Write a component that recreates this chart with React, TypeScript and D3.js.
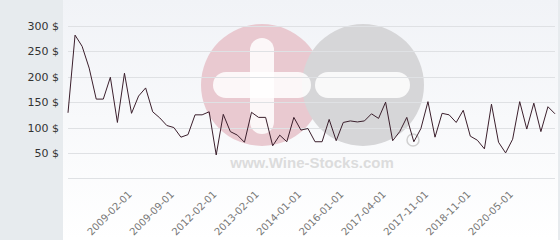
import React from "react";
import * as d3 from "d3";

const prices = [129, 282, 260, 217, 156, 156, 199, 110, 207, 128, 162, 178, 131, 119, 104, 100, 81, 86, 125, 125,
  131, 46, 126, 92, 85, 71, 130, 120, 120, 64, 85, 72, 120, 95, 98, 72, 72, 116, 74, 110,
  113, 111, 113, 127, 118, 150, 74, 92, 120, 72, 98, 151, 81, 128, 125, 110, 134, 83, 75, 58,
  146, 71, 50, 77, 151, 97, 148, 92, 141, 127];

const tickLabels = ["2009-02-01", "2009-09-01", "2012-02-01", "2013-02-01", "2014-01-01",
  "2016-01-01", "2017-04-01", "2017-11-01", "2018-11-01", "2020-05-01"];
const tickIndexes = [9, 15, 21, 27, 33, 39, 45, 51, 57, 63];
const yTicks = [0, 50, 100, 150, 200, 250, 300];

const W = 560, H = 240;

export default function App() {
  const x = d3.scaleLinear().domain([0, prices.length - 1]).range([68, 555]);
  const y = d3.scaleLinear().domain([0, 300]).range([178.3, 26]);
  const line = d3.line<number>().x((_, i) => x(i)).y((d) => y(d));
  const font = "'DejaVu Sans', Verdana, sans-serif";
  return (
    <svg width={W} height={H} style={{ position: "absolute", left: 0, top: 0 }}>
      <defs>
        <linearGradient id="bg" x1="0" y1="0" x2="0" y2="1">
          <stop offset="0" stopColor="#f1f3f7" />
          <stop offset="1" stopColor="#ffffff" />
        </linearGradient>
      </defs>
      <rect x={0} y={0} width={W} height={H} fill="#e7ebee" />
      <rect x={63} y={0} width={495} height={H} fill="url(#bg)" />
      {/* watermark */}
      <g>
        <circle cx={262} cy={85} r={61} fill="#e9c9d0" />
        <circle cx={363} cy={85} r={61} fill="#d6d6d8" />
        <rect x={250} y={38} width={24} height={96} rx={12} fill="#ffffff" opacity={0.85} />
        <rect x={213} y={72} width={98} height={26} rx={13} fill="#ffffff" opacity={0.85} />
        <rect x={315} y={72} width={95} height={26} rx={13} fill="#ffffff" opacity={0.85} />
        <circle cx={413} cy={140} r={6} fill="none" stroke="#d0d0d0" strokeWidth={1.5} />
        <text x={416} y={143} fontSize={8} fill="#d0d0d0" textAnchor="middle" fontFamily={font} opacity={0}>c</text>
        <text x={312} y={168} textAnchor="middle" fontFamily="'Liberation Sans', Arial, sans-serif" fontWeight="bold" fontSize={15} fill="#dcdcdc">www.Wine-Stocks.com</text>
      </g>
      {yTicks.map((t) => (
        <line key={t} x1={68} x2={555} y1={Math.round(y(t)) + 0.5} y2={Math.round(y(t)) + 0.5} stroke="#dfe1e4" strokeWidth={1} />
      ))}
      {yTicks.filter((t) => t > 0).map((t) => (
        <text key={t} x={59} y={y(t) + 4} textAnchor="end" fontFamily={font} fontSize={11} fill="#333">{t} $</text>
      ))}
      <path d={line(prices) || ""} fill="none" stroke="#3b1f2c" strokeWidth={1} />
      {tickLabels.map((l, i) => {
        const tx = x(tickIndexes[i]);
        return (
          <text key={l} transform={`translate(${tx + 1},${195}) rotate(-45)`} textAnchor="end" fontFamily={font} fontSize={10} fill="#777">{l}</text>
        );
      })}
    </svg>
  );
}
